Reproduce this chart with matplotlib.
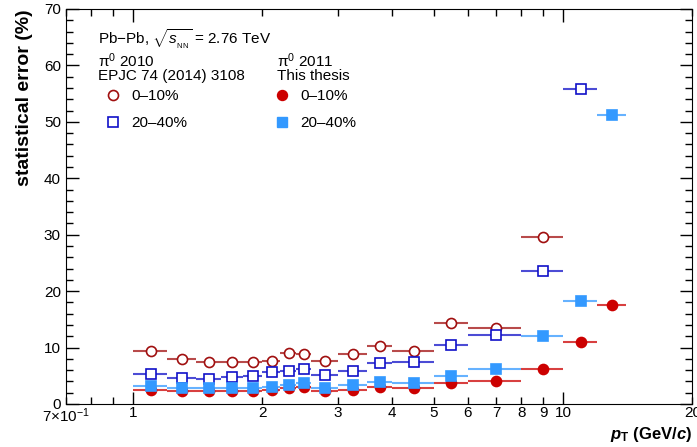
import numpy as np
import matplotlib
matplotlib.use("Agg")
import matplotlib.pyplot as plt
from matplotlib.lines import Line2D

plt.rcParams['font.family'] = ['Liberation Sans', 'DejaVu Sans']
plt.rcParams['mathtext.fontset'] = 'custom'
plt.rcParams['mathtext.rm'] = 'Liberation Sans'
plt.rcParams['mathtext.it'] = 'Liberation Sans:italic'
plt.rcParams['mathtext.bf'] = 'Liberation Sans:bold'
plt.rcParams['mathtext.bfit'] = 'Liberation Sans:bold:italic'

# pT bin edges (GeV/c)
edges = [1.0, 1.2, 1.4, 1.6, 1.8, 2.0, 2.2, 2.4, 2.6, 3.0, 3.5, 4.0, 5.0, 6.0, 8.0, 10.0, 12.0, 14.0]

# statistical errors (%)
err_2010_0_10 = [9.45, 7.9, 7.4, 7.5, 7.45, 7.6, 9.0, 8.9, 7.6, 8.9, 10.2, 9.45, 14.3, 13.5, 29.6]
err_2010_20_40 = [5.35, 4.55, 4.4, 4.85, 5.0, 5.65, 5.8, 6.15, 5.2, 5.85, 7.2, 7.4, 10.5, 12.2, 23.6, 55.9]
err_2011_0_10 = [2.55, 2.35, 2.3, 2.3, 2.3, 2.5, 2.75, 2.95, 2.3, 2.4, 3.1, 2.75, 3.8, 4.0, 6.15, 10.9, 17.5]
err_2011_20_40 = [3.2, 2.9, 2.8, 2.85, 2.85, 3.1, 3.35, 3.7, 2.8, 3.4, 3.9, 3.75, 4.95, 6.25, 12.1, 18.3, 51.3]

xtick_pos = [0.7, 0.8, 0.9, 2, 3, 4, 5, 6, 7, 8, 9, 20]
xtick_lab = ['7$\\times$10$^{-1}$', '', '', '2', '3', '4', '5', '6', '7', '8', '9', '20']

e = np.array(edges)
lo, hi = e[:-1], e[1:]
cen = 0.5 * (lo + hi)

fig = plt.figure(figsize=(6.97, 4.47), dpi=100)
ax = fig.add_axes([0.0953, 0.0962, 0.898, 0.8837])


def draw(vals, color, marker, mfc, ms, alpha=0.75):
    n = len(vals)
    c = cen[:n]
    xerr = [c - lo[:n], hi[:n] - c]
    eb = ax.errorbar(c, vals, xerr=xerr, fmt=marker, color=color, mfc=mfc, mec=color,
                     ms=ms, mew=1.2, elinewidth=1.5, capsize=0, zorder=3)
    eb[2][0].set_alpha(alpha)
    return eb


draw(err_2010_0_10, '#a00f0f', 'o', 'white', 7.2)
draw(err_2010_20_40, '#1010c8', 's', 'white', 7.0)
draw(err_2011_0_10, '#cc0000', 'o', '#cc0000', 7.2)
draw(err_2011_20_40, '#3399ff', 's', '#3399ff', 6.8)

ax.set_xscale('log')
ax.set_xlim(0.7, 20)
ax.set_ylim(0, 70)

ax.set_xticks([1, 10])
ax.set_xticklabels(['1', '10'])
ax.set_xticks(xtick_pos, minor=True)
ax.set_xticklabels(xtick_lab, minor=True)
ax.set_yticks(np.arange(0, 71, 10))
ax.set_yticks(np.arange(0, 71, 2), minor=True)

ax.tick_params(which='both', direction='in', top=True, right=True, labelsize=11, pad=4)
ax.tick_params(which='major', length=9, width=1)
ax.tick_params(which='minor', length=5, width=1)
ax.tick_params(axis='x', which='both', pad=1.5)

ax.set_ylabel('statistical error (%)', fontsize=14, fontweight='bold', loc='top', labelpad=8)
ax.set_xlabel(r'$\mathbfit{p}_{\mathbf{T}}$ $\mathbf{(GeV/}\mathbfit{c}\mathbf{)}$', fontsize=12,
              loc='right', labelpad=0)

ax.text(0.0505, 0.922, r'Pb$-$Pb, $\sqrt{s_{_{\rm NN}}}$ = 2.76 TeV', transform=ax.transAxes,
        fontsize=11, va='center')
ax.text(0.0505, 0.868, '\u03c0$^{0}$ 2010', transform=ax.transAxes, fontsize=11, va='center')
ax.text(0.0505, 0.830, 'EPJC 74 (2014) 3108', transform=ax.transAxes, fontsize=11, va='center')
ax.text(0.336, 0.868, '\u03c0$^{0}$ 2011', transform=ax.transAxes, fontsize=11, va='center')
ax.text(0.336, 0.830, 'This thesis', transform=ax.transAxes, fontsize=11, va='center')

h1 = [Line2D([], [], ls='', marker='o', mfc='white', mec='#a00f0f', ms=7.2, mew=1.2),
      Line2D([], [], ls='', marker='s', mfc='white', mec='#1010c8', ms=7.0, mew=1.2)]
h2 = [Line2D([], [], ls='', marker='o', mfc='#cc0000', mec='#cc0000', ms=7.2),
      Line2D([], [], ls='', marker='s', mfc='#3399ff', mec='#3399ff', ms=6.8)]
labels = ['0\u201310%', '20\u201340%']
leg_kw = dict(loc='upper left', frameon=False, fontsize=11, handlelength=1.2,
              handletextpad=0.6, labelspacing=0.85, borderaxespad=0, borderpad=0)
leg1 = ax.legend(h1, labels, bbox_to_anchor=(0.060, 0.797), **leg_kw)
ax.add_artist(leg1)
ax.legend(h2, labels, bbox_to_anchor=(0.330, 0.797), **leg_kw)

fig.savefig('out.png', dpi=100)
